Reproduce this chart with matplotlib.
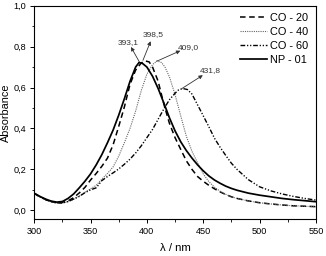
import matplotlib
matplotlib.use('Agg')
import matplotlib.pyplot as plt
from matplotlib.ticker import MultipleLocator

plt.rcParams['font.family'] = ['Liberation Sans', 'DejaVu Sans']
plt.rcParams['lines.scale_dashes'] = False

# CO - 20 (dashed)
wl_co20 = [300, 305, 310, 315, 320, 325, 330, 335, 340, 345, 350, 355, 360, 365, 370, 375, 380, 385,
           390, 395, 398.5, 402, 405, 410, 415, 420, 425, 430, 435, 440, 445, 450, 455, 460, 465, 470,
           475, 480, 490, 500, 510, 520, 530, 540, 550]
abs_co20 = [0.083, 0.066, 0.053, 0.043, 0.037, 0.038, 0.046, 0.062, 0.085, 0.112, 0.148, 0.180, 0.215,
            0.255, 0.320, 0.410, 0.505, 0.615, 0.685, 0.720, 0.730, 0.725, 0.700, 0.630, 0.520, 0.425,
            0.355, 0.298, 0.242, 0.200, 0.165, 0.142, 0.122, 0.105, 0.090, 0.077, 0.066, 0.058, 0.046,
            0.037, 0.031, 0.026, 0.022, 0.020, 0.018]

# CO - 40 (dotted)
wl_co40 = [300, 305, 310, 315, 320, 325, 330, 335, 340, 345, 350, 355, 360, 365, 370, 375, 380, 385,
           390, 395, 400, 405, 409, 413, 416, 420, 425, 430, 435, 440, 445, 450, 455, 460, 465, 470,
           475, 480, 490, 500, 510, 520, 530, 540, 550]
abs_co40 = [0.083, 0.066, 0.052, 0.042, 0.036, 0.036, 0.042, 0.054, 0.070, 0.088, 0.105, 0.122, 0.152,
            0.180, 0.212, 0.265, 0.330, 0.400, 0.485, 0.585, 0.665, 0.712, 0.730, 0.722, 0.700, 0.652,
            0.565, 0.462, 0.362, 0.288, 0.232, 0.178, 0.140, 0.113, 0.093, 0.078, 0.066, 0.058, 0.046,
            0.037, 0.031, 0.026, 0.022, 0.020, 0.017]

# CO - 60 (dash dot dot)
wl_co60 = [300, 305, 310, 315, 320, 325, 330, 335, 340, 345, 350, 355, 360, 365, 370, 375, 380, 385,
           390, 395, 400, 405, 410, 415, 420, 425, 428, 432, 436, 440, 445, 450, 455, 460, 465, 470,
           475, 480, 490, 500, 510, 520, 530, 540, 550]
abs_co60 = [0.083, 0.066, 0.052, 0.042, 0.036, 0.036, 0.043, 0.055, 0.068, 0.086, 0.100, 0.110, 0.145,
            0.165, 0.183, 0.202, 0.225, 0.250, 0.280, 0.315, 0.355, 0.395, 0.445, 0.495, 0.540, 0.572,
            0.588, 0.595, 0.590, 0.568, 0.515, 0.462, 0.408, 0.352, 0.308, 0.268, 0.230, 0.200, 0.150,
            0.115, 0.095, 0.080, 0.068, 0.058, 0.050]

# NP - 01 (solid)
wl_np01 = [300, 305, 310, 315, 320, 325, 330, 335, 340, 345, 350, 355, 360, 365, 370, 375, 380, 385,
           390, 393, 396, 400, 405, 410, 415, 420, 425, 430, 435, 440, 445, 450, 455, 460, 465, 470,
           475, 480, 490, 500, 510, 520, 530, 540, 550]
abs_np01 = [0.083, 0.068, 0.055, 0.045, 0.040, 0.043, 0.058, 0.080, 0.110, 0.142, 0.178, 0.222, 0.272,
            0.330, 0.392, 0.465, 0.545, 0.630, 0.700, 0.722, 0.718, 0.700, 0.655, 0.595, 0.525, 0.452,
            0.388, 0.335, 0.292, 0.255, 0.222, 0.193, 0.168, 0.148, 0.132, 0.118, 0.107, 0.098, 0.084,
            0.074, 0.066, 0.058, 0.052, 0.047, 0.042]

peak_labels = ['393,1', '398,5', '409,0', '431,8']
arrow_from = [(393.2, 0.726), (396.5, 0.733), (408.6, 0.728), (430.8, 0.594)]
label_at = [(383.4, 0.822), (405.6, 0.857), (436.7, 0.797), (455.9, 0.682)]

fig = plt.figure(figsize=(3.26, 2.56), dpi=100)
ax = fig.add_axes([0.105, 0.1445, 0.864, 0.8335])

ax.plot(wl_co20, abs_co20, color='black', lw=1.1, dashes=(4.0, 2.6), label='CO - 20')
ax.plot(wl_co40, abs_co40, color='#666666', lw=0.8, dashes=(0.8, 0.8), label='CO - 40')
ax.plot(wl_co60, abs_co60, color='black', lw=1.0, dashes=(3.4, 1.3, 0.9, 1.3, 0.9, 1.3), label='CO - 60')
ax.plot(wl_np01, abs_np01, color='black', lw=1.25, label='NP - 01')

for txt, (x0, y0), (x1, y1) in zip(peak_labels, arrow_from, label_at):
    ax.annotate('', xy=(x0 + (x1 - x0) * 0.75, y0 + (y1 - y0) * 0.75), xytext=(x0, y0),
                arrowprops=dict(arrowstyle='-|>', color='#333333', lw=0.6,
                                mutation_scale=5.5, shrinkA=0, shrinkB=0))
    ax.text(x1, y1, txt, fontsize=6, color='#333333', ha='center', va='center')

ax.set_xlim(300, 550)
ax.set_ylim(-0.0425, 1.0)
ax.xaxis.set_major_locator(MultipleLocator(50))
ax.xaxis.set_minor_locator(MultipleLocator(25))
ax.yaxis.set_major_locator(MultipleLocator(0.2))
ax.yaxis.set_minor_locator(MultipleLocator(0.1))
ax.yaxis.set_major_formatter(plt.FuncFormatter(lambda v, p: ('%.1f' % v).replace('.', ',')))
ax.tick_params(which='major', direction='out', length=3, width=0.7, labelsize=6.6, pad=2.5,
               top=False, right=False)
ax.tick_params(which='minor', direction='out', length=1.8, width=0.6, top=False, right=False)
for s in ax.spines.values():
    s.set_linewidth(0.8)

ax.set_xlabel(u'\u03bb / nm', fontsize=8.2, labelpad=5.5)
ax.set_ylabel('Absorbance', fontsize=7.8, labelpad=2)

ax.legend(loc='upper right', frameon=False, fontsize=7.9, handlelength=2.4, handletextpad=0.3,
          labelspacing=0.35, borderaxespad=0.3, borderpad=0.4)

fig.savefig('out.png', dpi=100)
